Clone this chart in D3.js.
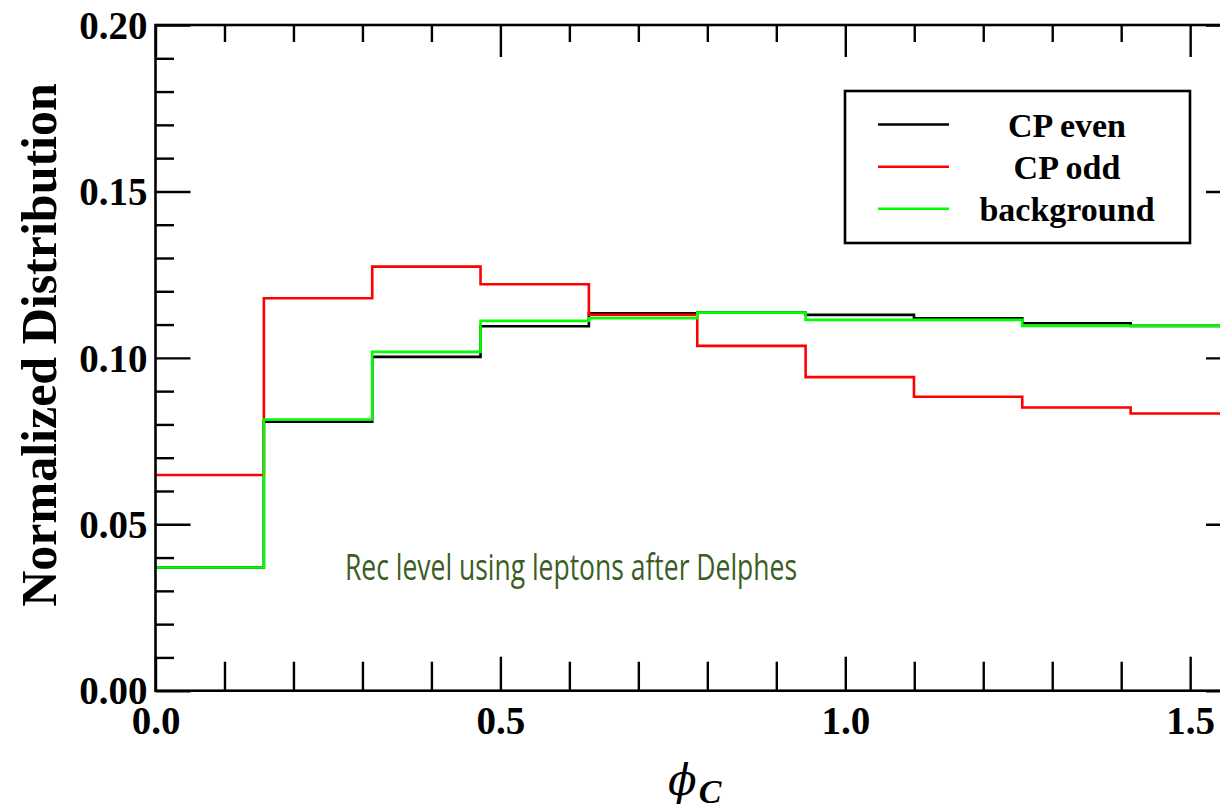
<!DOCTYPE html>
<html>
<head>
<meta charset="utf-8">
<script src="https://cdn.jsdelivr.net/npm/d3@7"></script>
<style>
  html, body { margin: 0; padding: 0; background: #fff; overflow: hidden; }
  .tick text { font-family: "Liberation Serif", "Times New Roman", serif; font-weight: bold; }
</style>
</head>
<body>
<div class="svg-container"></div>
<script>
// bin edges of phi_C (10 bins from 0 to pi/2)
const binEdges = [0, 0.1571, 0.3142, 0.4712, 0.6283, 0.7854, 0.9425, 1.0996, 1.2566, 1.4137, 1.5708];

// normalized distributions
const cpEven     = [0.0370, 0.0808, 0.1003, 0.1095, 0.1134, 0.1136, 0.1129, 0.1119, 0.1104, 0.1096];
const cpOdd      = [0.0648, 0.1179, 0.1274, 0.1221, 0.1129, 0.1036, 0.0942, 0.0883, 0.0851, 0.0833];
const background = [0.0370, 0.0815, 0.1018, 0.1111, 0.1119, 0.1136, 0.1114, 0.1114, 0.1096, 0.1096];

const seriesNames = ["CP even", "CP odd", "background"];
const seriesColors = ["#000000", "#ff0000", "#00ff00"];

const xMajor = [0, 0.5, 1.0, 1.5];
const xMinor = [0.1, 0.2, 0.3, 0.4, 0.6, 0.7, 0.8, 0.9, 1.1, 1.2, 1.3, 1.4];
const yMajor = [0, 0.05, 0.10, 0.15, 0.20];
const yMinor = [0.01, 0.02, 0.03, 0.04, 0.06, 0.07, 0.08, 0.09, 0.11, 0.12, 0.13, 0.14, 0.16, 0.17, 0.18, 0.19];

const W = 1220, H = 811;
const plotLeft = 155.5, plotRight = 1239, plotTop = 25, plotBottom = 690.7;

const svg = d3.select('.svg-container').append('svg')
    .attr('width', W)
    .attr('height', H)
    .style('display', 'block');

svg.append('rect').attr('width', W).attr('height', H).attr('fill', '#fff');

const x = d3.scaleLinear().domain([0, Math.PI / 2]).range([plotLeft, plotRight]);
const y = d3.scaleLinear().domain([0, 0.2]).range([plotBottom, plotTop]);

/**
*  histograms
*/
const line = d3.line()
    .x(d => x(d[0]))
    .y(d => y(d[1]))
    .curve(d3.curveStepAfter);

const allSeries = [cpEven, cpOdd, background];
allSeries.forEach((vals, i) => {
    const pts = vals.map((v, j) => [binEdges[j], v]);
    pts.push([binEdges[binEdges.length - 1], vals[vals.length - 1]]);
    svg.append('path')
        .datum(pts)
        .attr('fill', 'none')
        .attr('stroke', seriesColors[i])
        .attr('stroke-width', 2.6)
        .attr('d', line);
});

/**
*  axes: ticks pointing inward
*/
function styleAxis(g) {
    g.select('.domain').remove();
    g.selectAll('.tick line').attr('stroke', '#000').attr('stroke-width', 2.4);
}

// bottom
svg.append('g').attr('transform', `translate(0,${plotBottom})`)
    .call(d3.axisBottom(x).tickValues(xMinor).tickSize(-29).tickFormat(''))
    .call(styleAxis);
svg.append('g').attr('transform', `translate(0,${plotBottom})`)
    .call(d3.axisBottom(x).tickValues(xMajor).tickSize(-34).tickPadding(16).tickFormat(d3.format('.1f')))
    .call(styleAxis)
    .call(g => g.selectAll('.tick text').attr('font-size', 39).attr('fill', '#000'));

// top
svg.append('g').attr('transform', `translate(0,${plotTop})`)
    .call(d3.axisTop(x).tickValues(xMinor).tickSize(-17).tickFormat(''))
    .call(styleAxis);
svg.append('g').attr('transform', `translate(0,${plotTop})`)
    .call(d3.axisTop(x).tickValues(xMajor).tickSize(-32).tickFormat(''))
    .call(styleAxis);

// left
svg.append('g').attr('transform', `translate(${plotLeft},0)`)
    .call(d3.axisLeft(y).tickValues(yMinor).tickSize(-18.5).tickFormat(''))
    .call(styleAxis);
svg.append('g').attr('transform', `translate(${plotLeft},0)`)
    .call(d3.axisLeft(y).tickValues(yMajor).tickSize(-35).tickPadding(8).tickFormat(d3.format('.2f')))
    .call(styleAxis)
    .call(g => g.selectAll('.tick text').attr('font-size', 39).attr('fill', '#000').attr('dy', '0.34em'));

// right
svg.append('g').attr('transform', `translate(${plotRight},0)`)
    .call(d3.axisRight(y).tickValues(yMinor).tickSize(-18.5).tickFormat(''))
    .call(styleAxis);
svg.append('g').attr('transform', `translate(${plotRight},0)`)
    .call(d3.axisRight(y).tickValues(yMajor).tickSize(-33).tickFormat(''))
    .call(styleAxis);

// frame
svg.append('rect')
    .attr('x', plotLeft).attr('y', plotTop)
    .attr('width', plotRight - plotLeft).attr('height', plotBottom - plotTop)
    .attr('fill', 'none')
    .attr('stroke', '#000')
    .attr('stroke-width', 2.6);

/**
*  axis titles
*/
svg.append('text')
    .attr('transform', `translate(56, 345) rotate(-90)`)
    .attr('text-anchor', 'middle')
    .style('font-family', '"Liberation Serif", "Times New Roman", serif')
    .style('font-weight', 'bold')
    .style('font-size', '50px')
    .text('Normalized Distribution');

const xTitle = svg.append('text')
    .attr('x', 668)
    .attr('y', 795)
    .style('font-family', '"DejaVu Serif", "Liberation Serif", serif')
    .style('font-style', 'italic');
xTitle.append('tspan').style('font-size', '42px').text('\u03D5');
xTitle.append('tspan').attr('dy', 8).attr('dx', 2)
    .style('font-family', '"Liberation Serif", "Times New Roman", serif')
    .style('font-size', '34px').style('font-weight', 'bold').text('C');

/**
*  annotation
*/
svg.append('text')
    .attr('x', 345)
    .attr('y', 580)
    .attr('textLength', 452)
    .attr('lengthAdjust', 'spacingAndGlyphs')
    .style('font-family', '"Open Sans", "Noto Sans", sans-serif')
    .style('font-size', '36px')
    .style('fill', '#3b5e26')
    .text('Rec level using leptons after Delphes');

/**
*  legend
*/
const legend = svg.append('g');
legend.append('rect')
    .attr('x', 845).attr('y', 91)
    .attr('width', 345).attr('height', 152)
    .attr('fill', '#fff')
    .attr('stroke', '#000')
    .attr('stroke-width', 2.6);

const legendY = [124.5, 166.7, 208.7];
seriesNames.forEach((name, i) => {
    legend.append('line')
        .attr('x1', 878).attr('x2', 949)
        .attr('y1', legendY[i]).attr('y2', legendY[i])
        .attr('stroke', seriesColors[i])
        .attr('stroke-width', 2.6);
    legend.append('text')
        .attr('x', 1067)
        .attr('y', legendY[i] + 12)
        .attr('text-anchor', 'middle')
        .style('font-family', '"Liberation Serif", "Times New Roman", serif')
        .style('font-weight', 'bold')
        .style('font-size', '34px')
        .text(name);
});
</script>
</body>
</html>
